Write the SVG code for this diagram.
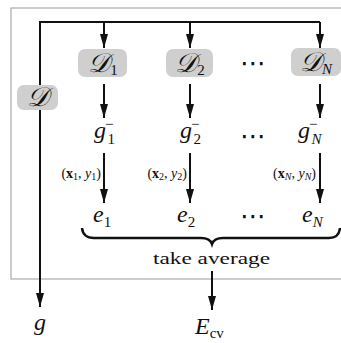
<svg xmlns="http://www.w3.org/2000/svg" width="341" height="343" viewBox="0 0 341 343">
<defs>
<marker id="ah" viewBox="0 0 14 8" refX="14" refY="4" markerWidth="14" markerHeight="8" markerUnits="userSpaceOnUse" orient="auto">
<path d="M0,0 L14,4 L0,8 Z" fill="#111"/>
</marker>
<filter id="soft" x="-10%" y="-10%" width="120%" height="120%"><feGaussianBlur stdDeviation="0.7"/></filter>
</defs>
<style>
.m{font-family:"Liberation Serif",serif;font-style:italic;font-size:24px;fill:#111}
.cal{font-family:"DejaVu Serif","Liberation Serif",serif;font-style:italic;font-size:27px;fill:#111}
.sub{font-family:"Liberation Serif",serif;font-style:normal;font-size:15px;fill:#111}
.subi{font-family:"Liberation Serif",serif;font-style:italic;font-size:15px;fill:#111}
.lab{font-family:"Liberation Serif",serif;font-size:14px;fill:#111}
.txt{font-family:"Liberation Serif",serif;font-size:16px;fill:#111}
.dots{font-family:"DejaVu Sans",sans-serif;font-size:26px;fill:#111}
.box{fill:#cfcfcf;filter:url(#soft)}
.c{stroke:#111;stroke-width:2;fill:none}
</style>
<rect x="11" y="8" width="340" height="271" fill="none" stroke="#9a9a9a" stroke-width="1"/>
<g id="connectors">
<path class="c" d="M320,22 H40 V307" marker-end="url(#ah)"/>
<path class="c" d="M104,22 V48" marker-end="url(#ah)"/>
<path class="c" d="M190,22 V48" marker-end="url(#ah)"/>
<path class="c" d="M320,22 V48" marker-end="url(#ah)"/>
<path class="c" d="M104,84 V118" marker-end="url(#ah)"/>
<path class="c" d="M190,84 V118" marker-end="url(#ah)"/>
<path class="c" d="M320,84 V118" marker-end="url(#ah)"/>
<path class="c" d="M104,153 V203" marker-end="url(#ah)"/>
<path class="c" d="M190,153 V203" marker-end="url(#ah)"/>
<path class="c" d="M320,153 V203" marker-end="url(#ah)"/>
<path class="c" d="M212,271 V310" marker-end="url(#ah)"/>
<path d="M82,228 Q83,238 94,238 H201 Q210,238 212,244 Q214,238 223,238 H329 Q339,238 340,228" fill="none" stroke="#111" stroke-width="2.5"/>
</g>
<g id="D">
<rect class="box" x="17" y="85" width="41" height="25" rx="7"/>
<text class="cal" x="37.5" y="106" text-anchor="middle">𝒟</text>
</g>
<g id="D1">
<rect class="box" x="78" y="49" width="49" height="28" rx="7"/>
<text class="cal" x="103" y="72" text-anchor="middle">𝒟<tspan class="sub" dy="3">1</tspan></text>
</g>
<g id="D2">
<rect class="box" x="166" y="49" width="47" height="28" rx="7"/>
<text class="cal" x="190" y="72" text-anchor="middle">𝒟<tspan class="sub" dy="3">2</tspan></text>
</g>
<g id="DN">
<rect class="box" x="291" y="48" width="50" height="28" rx="7"/>
<text class="cal" x="316" y="71" text-anchor="middle">𝒟<tspan class="subi" dy="3">N</tspan></text>
</g>
<g id="dots">
<text class="dots" x="253" y="72" text-anchor="middle">⋯</text>
<text class="dots" x="253" y="145" text-anchor="middle">⋯</text>
<text class="dots" x="253" y="225" text-anchor="middle">⋯</text>
</g>
<g id="g1">
<text class="m" x="94" y="138">g<tspan class="sub" font-size="10" dx="-1" dy="-9">−</tspan><tspan class="sub" font-size="14" dx="-6" dy="15">1</tspan></text>
</g>
<g id="g2">
<text class="m" x="180" y="138">g<tspan class="sub" font-size="10" dx="-1" dy="-9">−</tspan><tspan class="sub" font-size="14" dx="-6" dy="15">2</tspan></text>
</g>
<g id="gN">
<text class="m" x="298" y="138">g<tspan class="sub" font-size="10" dx="-1" dy="-9">−</tspan><tspan class="subi" font-size="14" dx="-6" dy="15">N</tspan></text>
</g>
<g id="lab1">
<text class="lab" x="101" y="178" text-anchor="end">(<tspan font-weight="bold">x</tspan><tspan font-size="10" dy="2">1</tspan><tspan dy="-2">, </tspan><tspan font-style="italic">y</tspan><tspan font-size="10" dy="2">1</tspan><tspan dy="-2">)</tspan></text>
</g>
<g id="lab2">
<text class="lab" x="187" y="178" text-anchor="end">(<tspan font-weight="bold">x</tspan><tspan font-size="10" dy="2">2</tspan><tspan dy="-2">, </tspan><tspan font-style="italic">y</tspan><tspan font-size="10" dy="2">2</tspan><tspan dy="-2">)</tspan></text>
</g>
<g id="labN">
<text class="lab" x="316" y="178" text-anchor="end">(<tspan font-weight="bold">x</tspan><tspan font-size="10" font-style="italic" dy="2">N</tspan><tspan dy="-2">, </tspan><tspan font-style="italic">y</tspan><tspan font-size="10" font-style="italic" dy="2">N</tspan><tspan dy="-2">)</tspan></text>
</g>
<g id="e1">
<text class="m" x="93" y="222">e<tspan class="sub" dy="5">1</tspan></text>
</g>
<g id="e2">
<text class="m" x="177" y="222">e<tspan class="sub" dy="5">2</tspan></text>
</g>
<g id="eN">
<text class="m" x="302" y="222">e<tspan class="subi" dy="5">N</tspan></text>
</g>
<g id="avg">
<text class="txt" x="153" y="264" textLength="117" lengthAdjust="spacingAndGlyphs">take average</text>
</g>
<g id="g">
<text class="m" x="34" y="330">g</text>
</g>
<g id="Ecv">
<text class="m" x="195" y="334">E<tspan class="sub" font-size="16" dy="4">cv</tspan></text>
</g>
</svg>
